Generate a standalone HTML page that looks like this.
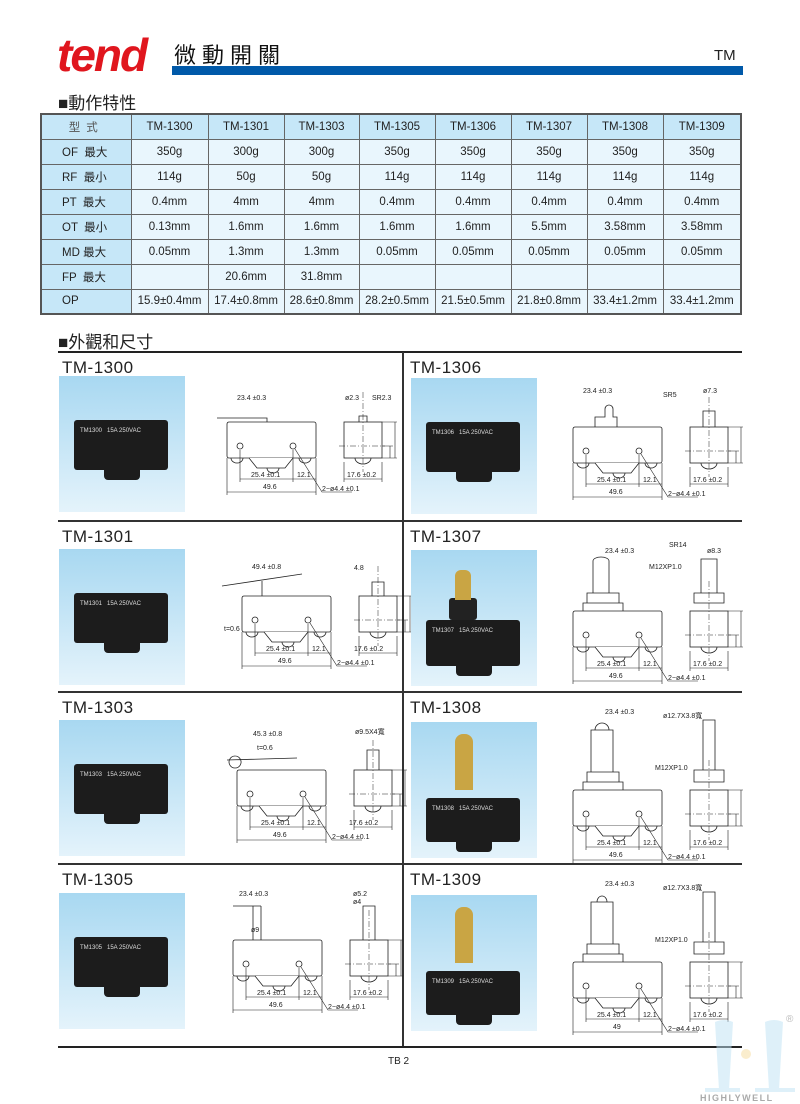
<!DOCTYPE html>
<html><head><meta charset="utf-8">
<style>
*{margin:0;padding:0;box-sizing:border-box}
body{width:800px;height:1104px;background:#fff;position:relative;font-family:"Liberation Sans","Noto Sans CJK TC",sans-serif;color:#222;overflow:hidden}
.abs{position:absolute}
table{position:absolute;left:40px;top:113px;width:702px;border-collapse:collapse;border:2px solid #555}
td{border:1px solid #666;height:25px;font-size:11.5px;text-align:center;background:#e9f6fd;padding:0}
td.h{background:#c6e7f8;text-align:left;padding-left:20px}
tr:first-child td{background:#c6e7f8}
.title{font-size:17px;color:#222;letter-spacing:.5px}
.photo{position:absolute;width:126px;height:136px;background:linear-gradient(#a8d8f1,#e4f3fb)}
.sw{position:absolute;left:15px;top:44px;width:94px;height:50px;background:#1c1c1c;border-radius:3px;color:#ddd;font-size:6px;padding:8px 6px}
.sw:after{content:"";position:absolute;left:30px;bottom:-10px;width:36px;height:12px;background:#1c1c1c;border-radius:0 0 4px 4px}
</style></head><body>
<div class="abs" style="left:57px;top:28px;font:italic bold 46px 'Liberation Sans',sans-serif;color:#e0161e;letter-spacing:-2px">tend</div>
<div class="abs" style="left:174px;top:38px;font-size:22px;letter-spacing:6px;color:#111">微動開關</div>
<div class="abs" style="left:172px;top:66px;width:571px;height:9px;background:#0059a9"></div>
<div class="abs" style="left:714px;top:47px;font-size:15px">TM</div>
<div class="abs" style="left:58px;top:89px;font-size:17px">■動作特性</div>
<table>
<colgroup><col style="width:90px"><col style="width:77px"><col style="width:76px"><col style="width:75px"><col style="width:76px"><col style="width:76px"><col style="width:76px"><col style="width:76px"><col></colgroup>
<tr><td style="letter-spacing:6px;color:#555">型式</td><td>TM-1300</td><td>TM-1301</td><td>TM-1303</td><td>TM-1305</td><td>TM-1306</td><td>TM-1307</td><td>TM-1308</td><td>TM-1309</td></tr>
<tr><td class="h">OF &nbsp;最大</td><td>350g</td><td>300g</td><td>300g</td><td>350g</td><td>350g</td><td>350g</td><td>350g</td><td>350g</td></tr>
<tr><td class="h">RF &nbsp;最小</td><td>114g</td><td>50g</td><td>50g</td><td>114g</td><td>114g</td><td>114g</td><td>114g</td><td>114g</td></tr>
<tr><td class="h">PT &nbsp;最大</td><td>0.4mm</td><td>4mm</td><td>4mm</td><td>0.4mm</td><td>0.4mm</td><td>0.4mm</td><td>0.4mm</td><td>0.4mm</td></tr>
<tr><td class="h">OT &nbsp;最小</td><td>0.13mm</td><td>1.6mm</td><td>1.6mm</td><td>1.6mm</td><td>1.6mm</td><td>5.5mm</td><td>3.58mm</td><td>3.58mm</td></tr>
<tr><td class="h">MD 最大</td><td>0.05mm</td><td>1.3mm</td><td>1.3mm</td><td>0.05mm</td><td>0.05mm</td><td>0.05mm</td><td>0.05mm</td><td>0.05mm</td></tr>
<tr><td class="h">FP &nbsp;最大</td><td></td><td>20.6mm</td><td>31.8mm</td><td></td><td></td><td></td><td></td><td></td></tr>
<tr><td class="h">OP</td><td>15.9±0.4mm</td><td>17.4±0.8mm</td><td>28.6±0.8mm</td><td>28.2±0.5mm</td><td>21.5±0.5mm</td><td>21.8±0.8mm</td><td>33.4±1.2mm</td><td>33.4±1.2mm</td></tr>
</table>
<div class="abs" style="left:58px;top:328px;font-size:17px">■外觀和尺寸</div>

<svg class="abs" style="left:0;top:0" width="800" height="1104">
<defs>
<g id="fr" fill="none" stroke="#222" stroke-width="0.8">
<rect x="0" y="0" width="89" height="36" rx="2" fill="#fff"/>
<path d="M22 36 L30 46 H58 L66 36" fill="#fff"/>
<circle cx="13" cy="24" r="3"/><circle cx="66" cy="24" r="3"/>
<path d="M4 36 a6 5 0 0 0 12 0 M40 46 a6 5 0 0 0 12 0 M72 36 a6 5 0 0 0 12 0"/>
<rect x="117" y="0" width="38" height="36" fill="#fff"/>
<path d="M128 36 a8 6 0 0 0 16 0"/>
<path d="M136 -30 V50 M112 24 H158" stroke-dasharray="6 2 1 2" stroke-width="0.5"/>
<path d="M13 28 V60 M66 28 V60 M89 36 V73 M0 36 V73 M13 57 H89 M0 70 H89 M117 40 V60 M155 40 V60 M117 57 H155 M155 24 H166 M163 24 V36 M155 36 H170 M155 0 H170 M168 0 V36" stroke-width="0.6"/>
<path d="M68 27 L95 70 H125" stroke-width="0.6"/>
</g>
</defs>
<line x1="58" y1="352" x2="742" y2="352" stroke="#222" stroke-width="2"/>
<line x1="403" y1="352" x2="403" y2="1047" stroke="#333" stroke-width="2"/>
<line x1="58" y1="521" x2="742" y2="521" stroke="#333" stroke-width="2"/>
<line x1="58" y1="692" x2="742" y2="692" stroke="#333" stroke-width="2"/>
<line x1="58" y1="864" x2="742" y2="864" stroke="#333" stroke-width="2"/>
<line x1="58" y1="1047" x2="742" y2="1047" stroke="#222" stroke-width="2"/>
<g font-family="Liberation Sans,sans-serif" font-size="7" fill="#222">
<g transform="translate(227,422)"><use href="#fr"/><path d="M-10 -4 H40 V0 M132 0 V-6 H140 V0" fill="none" stroke="#222" stroke-width=".8"/>
<text x="24" y="55">25.4 ±0.1</text><text x="70" y="55">12.1</text><text x="36" y="67">49.6</text><text x="120" y="55">17.6 ±0.2</text><text x="95" y="69">2−ø4.4 ±0.1</text><text x="10" y="-22">23.4 ±0.3</text><text x="118" y="-22">ø2.3</text><text x="145" y="-22">SR2.3</text></g>
<g transform="translate(573,427)"><use href="#fr"/><path d="M22 0 V-10 H32 V-18 a4 4 0 0 1 8 0 V-10 H44 V0 M130 0 V-16 H142 V0" fill="none" stroke="#222" stroke-width=".8"/>
<text x="24" y="55">25.4 ±0.1</text><text x="70" y="55">12.1</text><text x="36" y="67">49.6</text><text x="120" y="55">17.6 ±0.2</text><text x="95" y="69">2−ø4.4 ±0.1</text><text x="10" y="-34">23.4 ±0.3</text><text x="90" y="-30">SR5</text><text x="130" y="-34">ø7.3</text></g>
<g transform="translate(242,596)"><use href="#fr"/><path d="M-20 -10 L60 -22 M20 -15 V0 M130 0 V-14 H142 V0" fill="none" stroke="#222" stroke-width=".8"/>
<text x="24" y="55">25.4 ±0.1</text><text x="70" y="55">12.1</text><text x="36" y="67">49.6</text><text x="112" y="55">17.6 ±0.2</text><text x="95" y="69">2−ø4.4 ±0.1</text><text x="10" y="-27">49.4 ±0.8</text><text x="112" y="-26">4.8</text><text x="-18" y="35">t=0.6</text></g>
<g transform="translate(573,611)"><use href="#fr"/><path d="M10 0 V-8 H50 V0 M14 -8 V-18 H46 V-8 M20 -18 V-50 a8 4 0 0 1 16 0 V-18 M121 -8 H151 V-18 H121 Z M128 -18 V-52 H144 V-18" fill="none" stroke="#222" stroke-width=".8"/>
<text x="24" y="55">25.4 ±0.1</text><text x="70" y="55">12.1</text><text x="36" y="67">49.6</text><text x="120" y="55">17.6 ±0.2</text><text x="95" y="69">2−ø4.4 ±0.1</text><text x="32" y="-58">23.4 ±0.3</text><text x="96" y="-64">SR14</text><text x="134" y="-58">ø8.3</text><text x="76" y="-42">M12XP1.0</text></g>
<g transform="translate(237,770)"><use href="#fr"/><path d="M-10 -10 L60 -12 M-2 -14 a6 6 0 1 0 0.1 0 M130 0 V-20 H142 V0" fill="none" stroke="#222" stroke-width=".8"/>
<text x="24" y="55">25.4 ±0.1</text><text x="70" y="55">12.1</text><text x="36" y="67">49.6</text><text x="112" y="55">17.6 ±0.2</text><text x="95" y="69">2−ø4.4 ±0.1</text><text x="16" y="-34">45.3 ±0.8</text><text x="20" y="-20">t=0.6</text><text x="118" y="-36">ø9.5X4寬</text></g>
<g transform="translate(573,790)"><use href="#fr"/><path d="M10 0 V-8 H50 V0 M14 -8 V-18 H46 V-8 M18 -18 V-60 H40 V-18 M22 -60 a7 7 0 1 1 14 0 M121 -8 H151 V-20 H121 Z M130 -20 V-70 H142 V-20" fill="none" stroke="#222" stroke-width=".8"/>
<text x="24" y="55">25.4 ±0.1</text><text x="70" y="55">12.1</text><text x="36" y="67">49.6</text><text x="120" y="55">17.6 ±0.2</text><text x="95" y="69">2−ø4.4 ±0.1</text><text x="32" y="-76">23.4 ±0.3</text><text x="90" y="-72">ø12.7X3.8寬</text><text x="82" y="-20">M12XP1.0</text></g>
<g transform="translate(233,940)"><use href="#fr"/><path d="M20 0 V-34 M28 0 V-34 M0 -34 H28 M130 0 V-34 H142 V0" fill="none" stroke="#222" stroke-width=".8"/>
<text x="24" y="55">25.4 ±0.1</text><text x="70" y="55">12.1</text><text x="36" y="67">49.6</text><text x="120" y="55">17.6 ±0.2</text><text x="95" y="69">2−ø4.4 ±0.1</text><text x="6" y="-44">23.4 ±0.3</text><text x="18" y="-8">ø9</text><text x="120" y="-44">ø5.2</text><text x="120" y="-36">ø4</text></g>
<g transform="translate(573,962)"><use href="#fr"/><path d="M10 0 V-8 H50 V0 M14 -8 V-18 H46 V-8 M18 -18 V-60 H40 V-18 M24 -60 a5 6 0 1 1 10 0 M121 -8 H151 V-20 H121 Z M130 -20 V-70 H142 V-20" fill="none" stroke="#222" stroke-width=".8"/>
<text x="24" y="55">25.4 ±0.1</text><text x="70" y="55">12.1</text><text x="40" y="67">49</text><text x="120" y="55">17.6 ±0.2</text><text x="95" y="69">2−ø4.4 ±0.1</text><text x="32" y="-76">23.4 ±0.3</text><text x="90" y="-72">ø12.7X3.8寬</text><text x="82" y="-20">M12XP1.0</text></g>
</g>
<g opacity="0.5">
<path d="M715 1022 q9-4 18 0 l-4 68 h-10 Z M765 1022 q9-4 18 0 l-4 68 h-10 Z" fill="#bfe3f5"/>
<path d="M705 1088 h35 v4 h-35Z M755 1088 h40 v4 h-40Z" fill="#bfe3f5"/>
<circle cx="746" cy="1054" r="5" fill="#f6dc9c"/>
</g>
<text x="700" y="1101" font-family="Liberation Sans,sans-serif" font-size="9" font-weight="bold" fill="#aaa" letter-spacing="1.5">HIGHLYWELL</text>
<text x="786" y="1022" font-family="Liberation Sans,sans-serif" font-size="10" fill="#bbb">®</text>
</svg>

<div class="abs title" style="left:62px;top:358px">TM-1300</div>
<div class="abs title" style="left:410px;top:358px">TM-1306</div>
<div class="abs title" style="left:62px;top:527px">TM-1301</div>
<div class="abs title" style="left:410px;top:527px">TM-1307</div>
<div class="abs title" style="left:62px;top:698px">TM-1303</div>
<div class="abs title" style="left:410px;top:698px">TM-1308</div>
<div class="abs title" style="left:62px;top:870px">TM-1305</div>
<div class="abs title" style="left:410px;top:870px">TM-1309</div>

<div class="photo" style="left:59px;top:376px"><div class="sw">TM1300 &nbsp; 15A 250VAC</div></div>
<div class="photo" style="left:411px;top:378px"><div class="sw">TM1306 &nbsp; 15A 250VAC</div></div>
<div class="photo" style="left:59px;top:549px"><div class="sw">TM1301 &nbsp; 15A 250VAC</div></div>
<div class="photo" style="left:411px;top:550px"><div class="sw" style="top:70px;height:46px">TM1307 &nbsp; 15A 250VAC</div><div class="abs" style="left:38px;top:48px;width:28px;height:22px;background:#222;border-radius:3px"></div><div class="abs" style="left:44px;top:20px;width:16px;height:30px;background:#c9a544;border-radius:6px 6px 0 0"></div></div>
<div class="photo" style="left:59px;top:720px"><div class="sw">TM1303 &nbsp; 15A 250VAC</div></div>
<div class="photo" style="left:411px;top:722px"><div class="sw" style="top:76px;height:44px">TM1308 &nbsp; 15A 250VAC</div><div class="abs" style="left:44px;top:12px;width:18px;height:56px;background:#c9a544;border-radius:8px 8px 0 0"></div></div>
<div class="photo" style="left:59px;top:893px"><div class="sw">TM1305 &nbsp; 15A 250VAC</div></div>
<div class="photo" style="left:411px;top:895px"><div class="sw" style="top:76px;height:44px">TM1309 &nbsp; 15A 250VAC</div><div class="abs" style="left:44px;top:12px;width:18px;height:56px;background:#c9a544;border-radius:8px 8px 0 0"></div></div>

<div class="abs" style="left:388px;top:1056px;font-size:10px">TB 2</div>
</body></html>
